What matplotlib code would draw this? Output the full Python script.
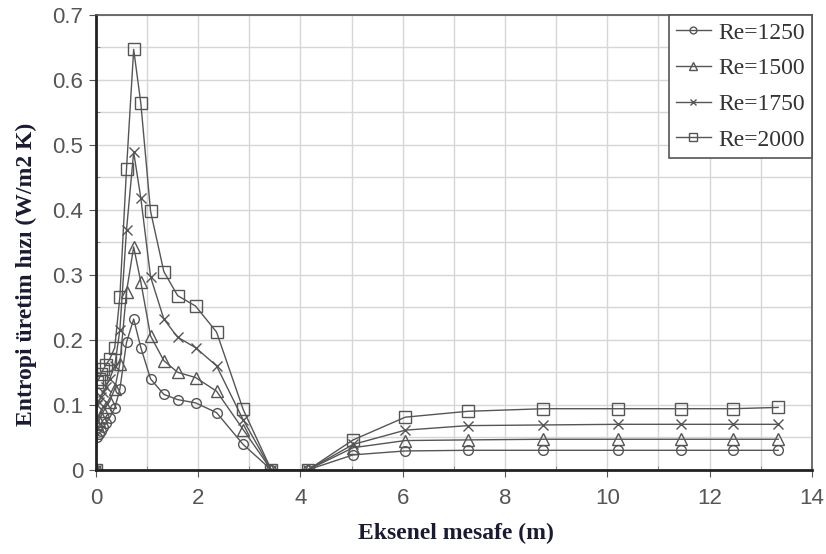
import matplotlib
matplotlib.use("Agg")
from matplotlib import pyplot as plt
from matplotlib.ticker import MultipleLocator

# axial distance (m) for the near-inlet part and the downstream part
x_head = [0.0, 0.02, 0.06, 0.10, 0.15, 0.20, 0.27, 0.37, 0.47, 0.60, 0.74, 0.88,
          1.07, 1.33, 1.60, 1.95, 2.36, 2.88, 3.43, 4.15]
x_tail = [5.03, 6.05, 7.27, 8.75, 10.21, 11.44, 12.46, 13.34]

re1250 = [0.0, 0.050, 0.055, 0.060, 0.066, 0.072, 0.080, 0.095, 0.124, 0.196, 0.232, 0.188,
          0.140, 0.116, 0.108, 0.103, 0.088, 0.039, 0.0, 0.0,
          0.023, 0.029, 0.030, 0.030, 0.030, 0.030, 0.030, 0.030]
re1500 = [0.0, 0.070, 0.075, 0.082, 0.090, 0.097, 0.105, 0.125, 0.163, 0.274, 0.343, 0.289,
          0.206, 0.168, 0.150, 0.142, 0.121, 0.062, 0.0, 0.0,
          0.034, 0.045, 0.046, 0.047, 0.047, 0.047, 0.047, 0.047]
re1750 = [0.0, 0.100, 0.105, 0.112, 0.120, 0.128, 0.140, 0.160, 0.215, 0.369, 0.489, 0.418,
          0.297, 0.232, 0.204, 0.188, 0.160, 0.077, 0.0, 0.0,
          0.039, 0.061, 0.068, 0.069, 0.070, 0.070, 0.070, 0.070]
re2000 = [0.0, 0.135, 0.140, 0.148, 0.155, 0.162, 0.170, 0.188, 0.266, 0.463, 0.647, 0.564,
          0.398, 0.305, 0.268, 0.252, 0.212, 0.093, 0.0, 0.0,
          0.046, 0.081, 0.090, 0.094, 0.094, 0.094, 0.094, 0.096]

x = x_head + x_tail
series = [("Re=1250", re1250, "o", 7),
          ("Re=1500", re1500, "^", 8),
          ("Re=1750", re1750, "x", 7),
          ("Re=2000", re2000, "s", 8)]

fig = plt.figure(figsize=(8.26, 5.54), dpi=100)
ax = fig.add_axes([0.116, 0.152, 0.867, 0.821])

for label, y, m, ms in series:
    ax.plot(x, y, color="#555555", lw=1.0, marker=m, markersize=ms,
            markerfacecolor="none", markeredgecolor="#555555", markeredgewidth=1.0,
            label=label)

ax.set_xlim(0, 14)
ax.set_ylim(0, 0.7)
ax.xaxis.set_major_locator(MultipleLocator(2))
ax.xaxis.set_minor_locator(MultipleLocator(1))
ax.yaxis.set_major_locator(MultipleLocator(0.1))
ax.yaxis.set_minor_locator(MultipleLocator(0.05))
ax.set_yticks([0, 0.1, 0.2, 0.3, 0.4, 0.5, 0.6, 0.7])
ax.set_yticklabels(["0", "0.1", "0.2", "0.3", "0.4", "0.5", "0.6", "0.7"])
ax.grid(which="both", color="#d6d6d6", lw=1.0)
ax.set_axisbelow(True)

ax.tick_params(which="major", direction="out", length=5, color="#555555",
               labelsize=16, labelcolor="#555555")
ax.tick_params(axis="x", which="major", pad=8)
ax.tick_params(axis="y", which="major", pad=4)
ax.tick_params(which="minor", direction="in", length=3, color="#777777")
for t in ax.get_xticklabels() + ax.get_yticklabels():
    t.set_family("Liberation Sans")

for side in ["top", "right"]:
    ax.spines[side].set_color("#555555")
    ax.spines[side].set_linewidth(1.2)
for side in ["left", "bottom"]:
    ax.spines[side].set_color("#222222")
    ax.spines[side].set_linewidth(2.0)

ax.set_xlabel("Eksenel mesafe (m)", family="Liberation Serif", fontweight="bold",
              fontsize=17, color="#1a1a33")
ax.set_ylabel("Entropi üretim hızı (W/m2 K)", family="Liberation Serif", fontweight="bold",
              fontsize=17, color="#1a1a33")
ax.xaxis.set_label_coords(0.503, -0.116)
ax.yaxis.set_label_coords(-0.082, 0.43)

leg = ax.legend(loc="upper right", prop={"family": "Liberation Serif", "size": 17},
                fancybox=False, edgecolor="#555555", framealpha=1, borderaxespad=0,
                handlelength=1.5, handletextpad=0.3, labelspacing=0.6, borderpad=0.3,
                markerscale=0.7)
leg.get_frame().set_linewidth(1.2)
for t in leg.get_texts():
    t.set_color("#333333")

fig.savefig("out.png", dpi=100)
